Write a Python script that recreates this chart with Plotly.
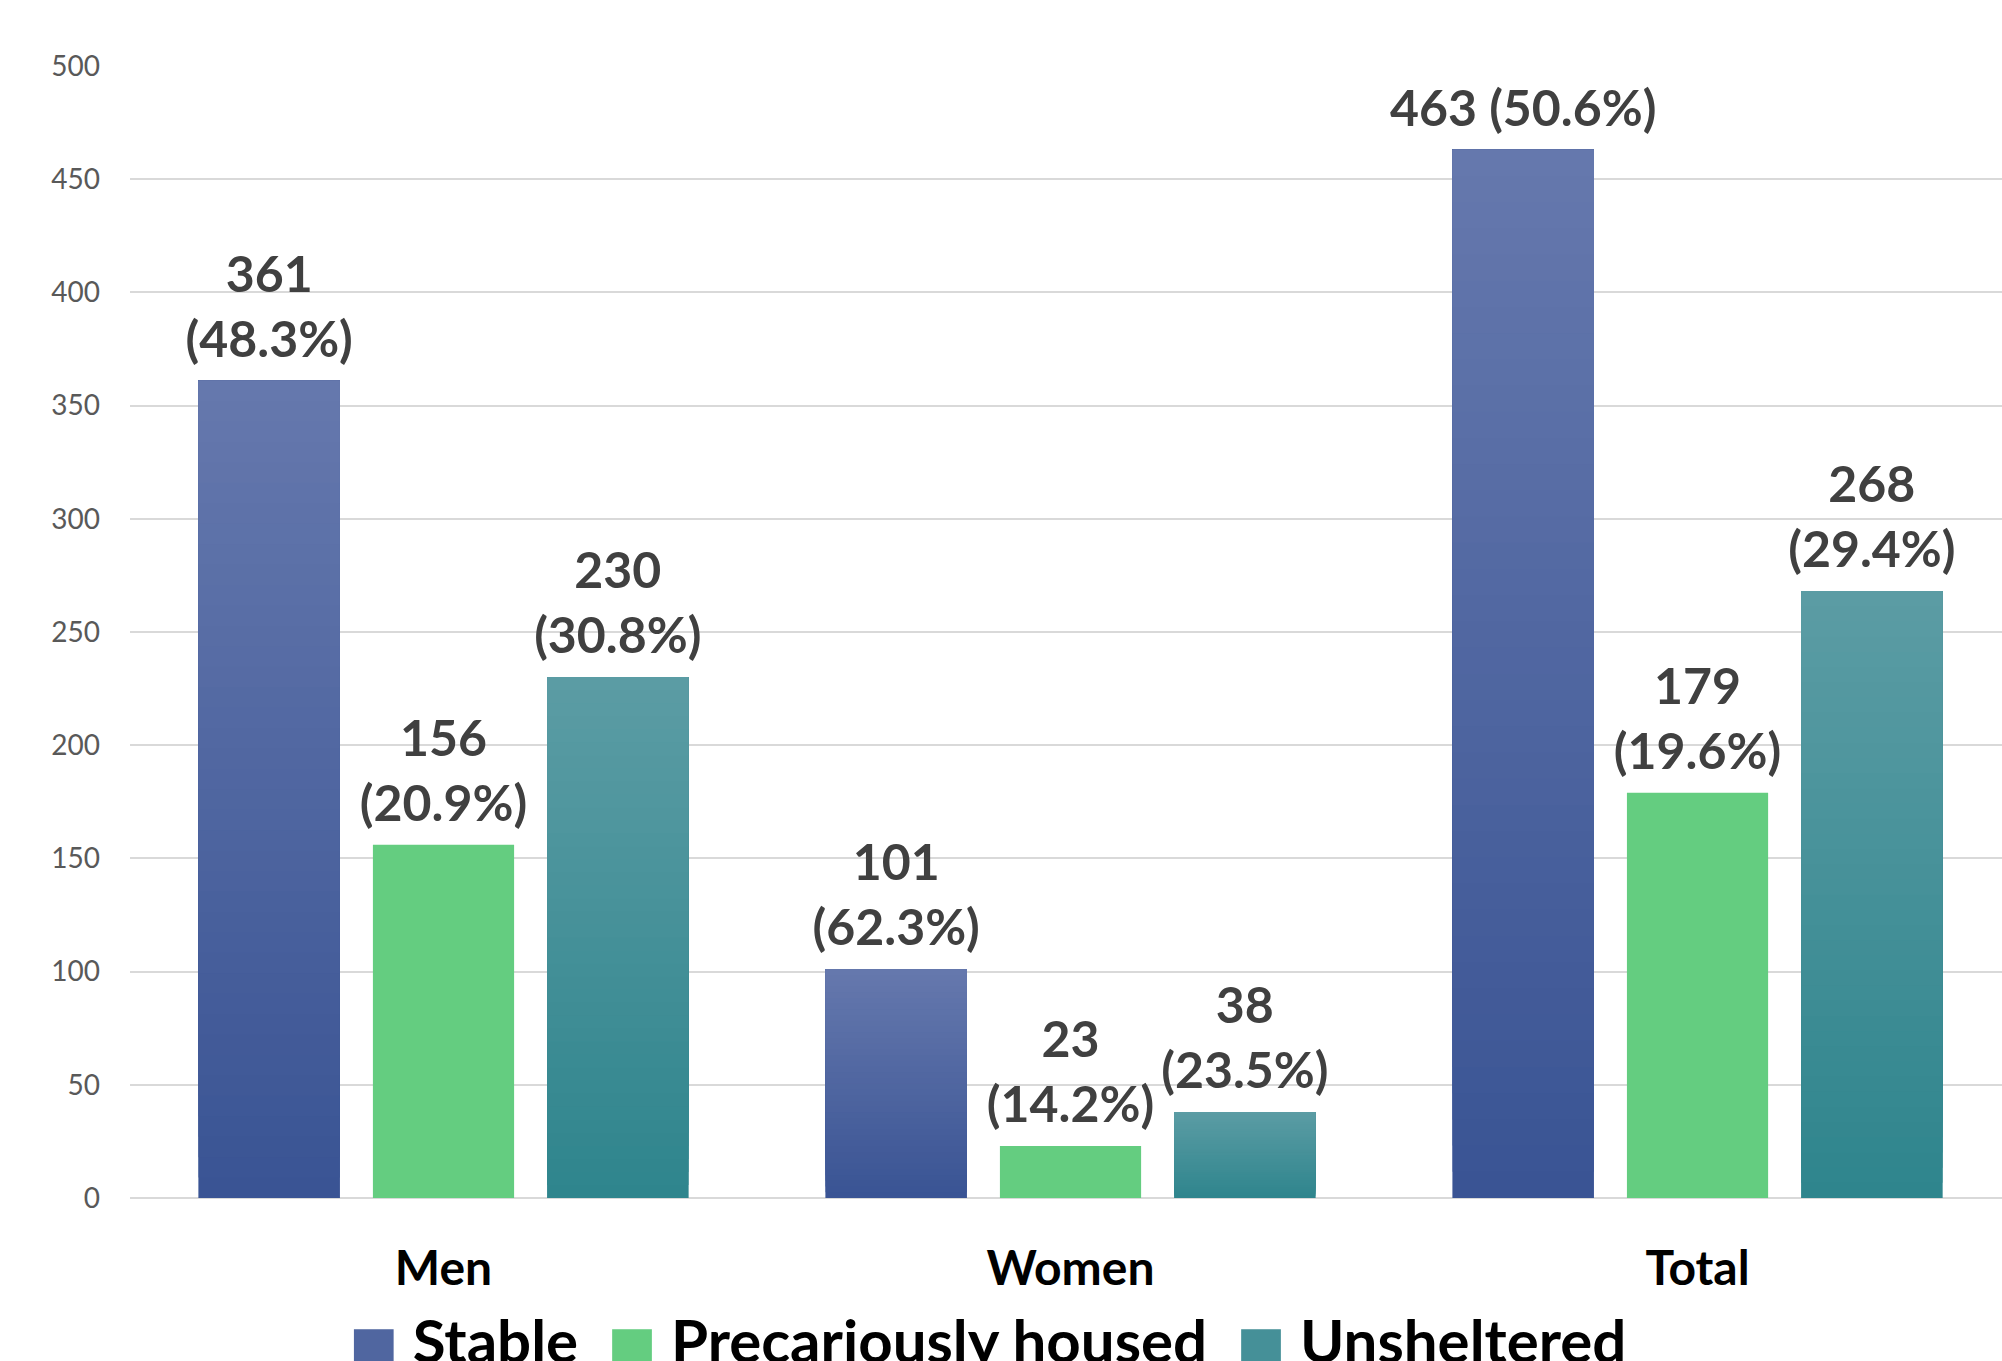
import plotly.graph_objects as go

categories = ["Men", "Women", "Total"]
series_names = ["Stable", "Precariously housed", "Unsheltered"]
stable = [361, 101, 463]
precarious = [156, 23, 179]
unsheltered = [230, 38, 268]
stable_pct = ["48.3", "62.3", "50.6"]
precarious_pct = ["20.9", "14.2", "19.6"]
unsheltered_pct = ["30.8", "23.5", "29.4"]
stable_sep = ["<br>", "<br>", " "]
y_ticks = [0, 50, 100, 150, 200, 250, 300, 350, 400, 450, 500]

# colours: (bottom, top) of the vertical gradient
grad = {
    "Stable": ((0x3a, 0x54, 0x94), (0x65, 0x78, 0xad)),
    "Precariously housed": ((0x64, 0xcd, 0x80), (0x64, 0xcd, 0x80)),
    "Unsheltered": ((0x2f, 0x85, 0x8d), (0x5b, 0x9c, 0xa4)),
}

values = {"Stable": stable, "Precariously housed": precarious, "Unsheltered": unsheltered}
labels = {
    "Stable": [f"<b>{v}{s}({p}%)</b>" for v, s, p in zip(stable, stable_sep, stable_pct)],
    "Precariously housed": [f"<b>{v}<br>({p}%)</b>" for v, p in zip(precarious, precarious_pct)],
    "Unsheltered": [f"<b>{v}<br>({p}%)</b>" for v, p in zip(unsheltered, unsheltered_pct)],
}

def rgb(c):
    return f"rgb({c[0]},{c[1]},{c[2]})"

def mix(a, b, t):
    return tuple(round(a[i] + (b[i] - a[i]) * t) for i in range(3))

fig = go.Figure()
N = 40
for name in series_names:
    vals = values[name]
    lo, hi = grad[name]
    mid = mix(lo, hi, 0.5)
    fig.add_trace(go.Bar(
        x=categories, y=vals, name=name, offsetgroup=name,
        marker=dict(color=rgb(mid), line=dict(width=0)),
        showlegend=False,
    ))
    if lo != hi:
        for k in range(N):
            t = k / (N - 1)
            fig.add_trace(go.Bar(
                x=categories,
                base=[v * k / N for v in vals],
                y=[v * (N - k) / N for v in vals],
                offsetgroup=name, showlegend=False, hoverinfo="skip",
                marker=dict(color=rgb(mix(lo, hi, t)), line=dict(width=0)),
            ))

# value labels, placed above each bar
for name in series_names:
    fig.add_trace(go.Scatter(
        x=categories, y=values[name], offsetgroup=name, mode="markers+text",
        marker=dict(size=17, opacity=0), text=labels[name], textposition="top center",
        textfont=dict(family="Lato", size=50, color="#404040"),
        cliponaxis=False, showlegend=False, hoverinfo="skip",
    ))

legend_html = "&nbsp;&nbsp;".join(
    f"<span style='color:{rgb(mix(grad[n][0], grad[n][1], 0.5))};font-family:DejaVu Sans;font-size:52px'>■</span> {n}"
    for n in series_names
)
fig.add_annotation(
    text=f"<b>{legend_html}</b>", xref="paper", yref="paper", x=0.458, y=-0.092,
    xanchor="center", yanchor="top", showarrow=False,
    font=dict(family="Lato", size=60, color="#000000"),
)

fig.update_layout(
    width=2002, height=1361,
    margin=dict(l=130, r=0, t=66, b=163),
    paper_bgcolor="white", plot_bgcolor="white",
    barmode="group", bargap=0.166, bargroupgap=0.19,
    scattermode="group", scattergap=0.166,
    showlegend=False,
    font=dict(family="Lato"),
)
fig.update_yaxes(
    range=[0, 500], tickvals=y_ticks, showgrid=True, gridcolor="#d9d9d9", gridwidth=2,
    zeroline=True, zerolinecolor="#d9d9d9", zerolinewidth=2,
    tickfont=dict(family="Lato", size=28, color="#595959"), ticklabelstandoff=29,
)
fig.update_xaxes(
    range=[-0.5, 2.4856],
    tickfont=dict(family="Lato", size=48, color="#000000", weight="bold"),
    ticklabelstandoff=38, showline=False,
)

fig.write_html("out.html")
